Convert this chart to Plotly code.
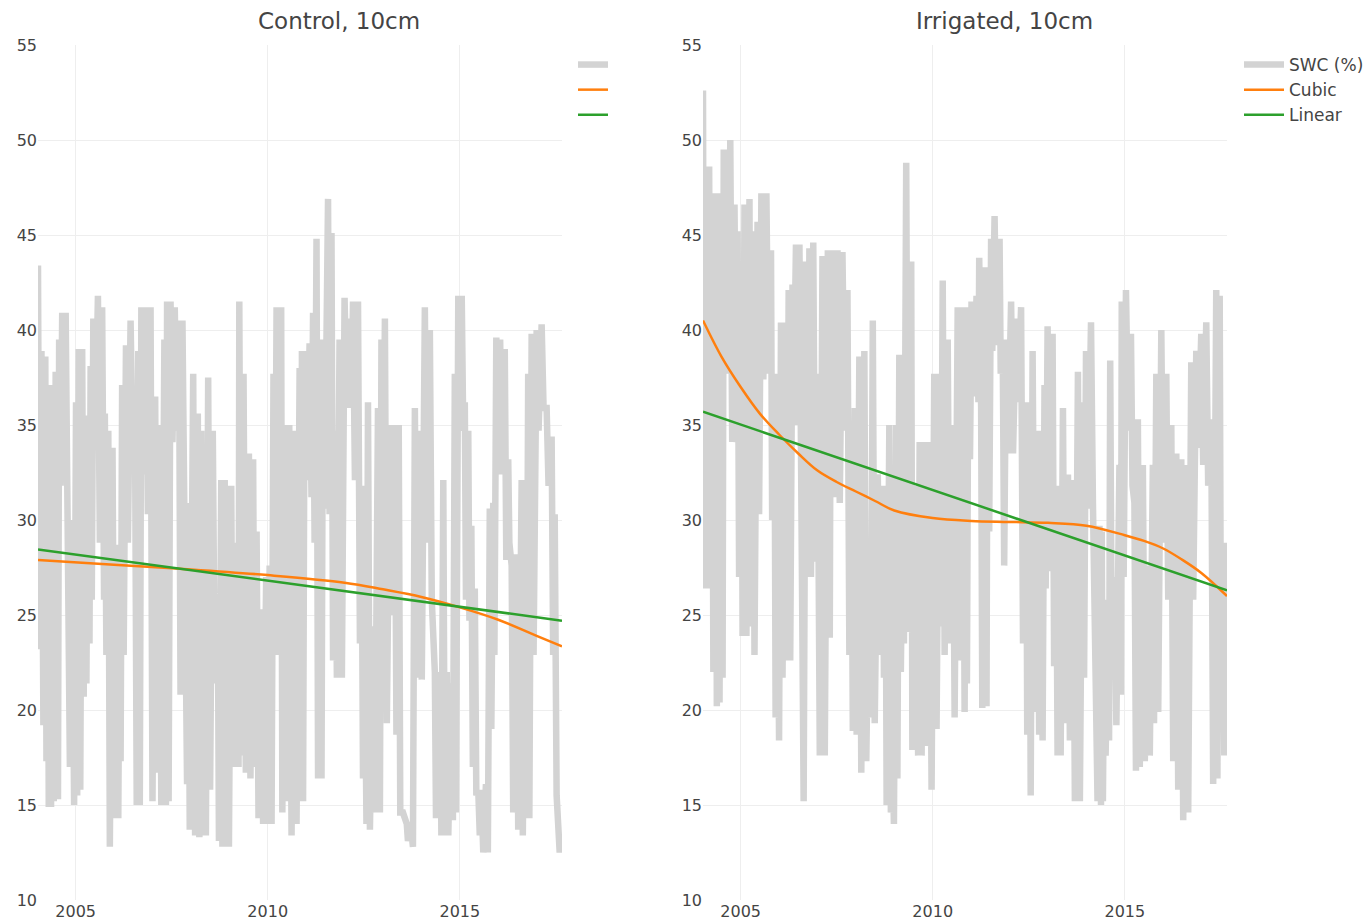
import plotly.graph_objects as go

# ---------------- data (decimal years, soil water content %) ----------------
ctrl_t = [
    2004.02, 2004.06, 2004.11, 2004.16, 2004.21, 2004.24, 2004.27, 2004.30, 2004.33, 2004.36,
    2004.38, 2004.43, 2004.48, 2004.54, 2004.57, 2004.61, 2004.65, 2004.70, 2004.74, 2004.78,
    2004.81, 2004.85, 2004.90, 2004.96, 2005.01, 2005.04, 2005.08, 2005.12, 2005.17, 2005.21,
    2005.24, 2005.28, 2005.32, 2005.36, 2005.39, 2005.42, 2005.46, 2005.51, 2005.58, 2005.63,
    2005.69, 2005.74, 2005.76, 2005.80, 2005.85, 2005.89, 2005.96, 2006.01, 2006.07, 2006.11,
    2006.15, 2006.17, 2006.21, 2006.25, 2006.31, 2006.36, 2006.43, 2006.49, 2006.55, 2006.59,
    2006.63, 2006.67, 2006.71, 2006.76, 2006.83, 2006.88, 2006.95, 2007.00, 2007.07, 2007.12,
    2007.18, 2007.23, 2007.31, 2007.35,
    2007.38, 2007.42, 2007.47, 2007.52, 2007.58, 2007.63, 2007.69, 2007.73, 2007.78, 2007.82,
    2007.86, 2007.90, 2007.93, 2007.97, 2008.06, 2008.11, 2008.18, 2008.22, 2008.27, 2008.31,
    2008.36, 2008.39, 2008.45, 2008.50, 2008.57, 2008.62, 2008.70, 2008.73, 2008.79, 2008.82,
    2008.88, 2008.92, 2008.96, 2008.99, 2009.05, 2009.09, 2009.13, 2009.17, 2009.20, 2009.24,
    2009.26, 2009.31, 2009.37, 2009.43, 2009.51, 2009.55, 2009.62, 2009.66, 2009.71, 2009.76,
    2009.83, 2009.88, 2009.96, 2009.99, 2010.05, 2010.10, 2010.15, 2010.18, 2010.23, 2010.28,
    2010.35, 2010.38, 2010.43, 2010.49, 2010.56, 2010.62, 2010.70, 2010.75, 2010.83, 2010.87,
    2010.89, 2010.92, 2010.96, 2011.01, 2011.09, 2011.14, 2011.18, 2011.22, 2011.27, 2011.31,
    2011.36, 2011.40, 2011.43, 2011.48, 2011.57, 2011.61, 2011.66, 2011.70, 2011.75, 2011.80,
    2011.87, 2011.93, 2012.00, 2012.06, 2012.13, 2012.18, 2012.22, 2012.27, 2012.35, 2012.40,
    2012.44, 2012.48, 2012.53, 2012.57, 2012.61, 2012.66, 2012.74, 2012.79, 2012.87, 2012.92,
    2012.96, 2012.99, 2013.05, 2013.10, 2013.18, 2013.22, 2013.31, 2013.35, 2013.41, 2013.45,
    2013.52, 2013.58, 2013.62, 2013.65, 2013.72, 2013.78, 2013.83, 2013.88, 2013.96, 2014.01,
    2014.09, 2014.14, 2014.22, 2014.27, 2014.35, 2014.38,
    2014.42, 2014.44, 2014.49, 2014.52, 2014.57, 2014.61, 2014.66, 2014.70, 2014.78, 2014.82,
    2014.87, 2014.90, 2014.96, 2015.00, 2015.05, 2015.09, 2015.13, 2015.16, 2015.22, 2015.25,
    2015.30, 2015.34, 2015.39, 2015.43, 2015.48, 2015.52, 2015.56, 2015.61, 2015.68, 2015.73,
    2015.78, 2015.82, 2015.87, 2015.90, 2015.95, 2016.00, 2016.05, 2016.09, 2016.17, 2016.21,
    2016.26, 2016.29, 2016.35, 2016.39, 2016.48, 2016.52, 2016.61, 2016.64, 2016.69, 2016.73,
    2016.78, 2016.81, 2016.87, 2016.92, 2017.00, 2017.05, 2017.13, 2017.18, 2017.26, 2017.31,
    2017.39, 2017.43, 2017.47, 2017.52, 2017.56, 2017.60, 2017.65,
]
ctrl_swc = [
    43.4, 23.2, 38.9, 19.2, 38.6, 17.3, 33.5, 14.9, 33.4, 14.9,
    37.1, 15.2, 37.8, 15.3, 39.5, 31.8, 40.9, 33.0, 40.9, 30.0,
    30.0, 17.0, 30.0, 15.0, 36.2, 15.5, 39.0, 15.8, 39.0, 20.7,
    35.5, 21.4, 35.3, 23.5, 38.1, 25.8, 40.6, 34.1, 41.8, 28.8,
    41.2, 25.8, 35.6, 22.9, 34.7, 12.8, 33.8, 14.3, 28.7, 14.3,
    28.7, 17.3, 37.1, 22.9, 39.2, 28.8, 40.5, 33.0, 33.0, 15.0,
    38.9, 15.0, 41.2, 32.4, 41.2, 30.3, 41.2, 15.2, 36.5, 16.7,
    35.0, 15.0, 39.5, 15.0,
    41.5, 15.2, 41.5, 34.1, 41.2, 34.7, 40.5, 20.8, 40.5, 30.9,
    30.9, 16.1, 30.9, 13.7, 37.7, 13.4, 35.6, 13.3, 34.7, 13.4,
    25.0, 13.4, 37.5, 15.8, 34.7, 21.4, 25.8, 13.1, 32.1, 12.8,
    32.1, 12.8, 22.9, 12.8, 31.8, 17.3, 22.9, 17.0, 28.8, 17.0,
    41.5, 17.6, 37.7, 16.7, 33.5, 16.4, 33.2, 17.0, 29.4, 14.3,
    25.3, 14.0, 27.0, 14.0, 27.6, 14.0, 37.7, 22.9, 41.2, 22.9,
    41.2, 14.6, 35.0, 15.2, 35.0, 13.4, 34.7, 14.0, 38.0, 19.9,
    38.9, 15.2, 38.9, 32.1, 39.3, 31.2, 40.9, 28.8, 44.8, 16.4,
    39.5, 16.4, 35.0, 30.6, 46.9, 30.3, 45.1, 22.6, 34.7, 21.7,
    39.5, 21.7, 41.7, 35.9, 40.6, 35.9, 41.5, 32.1, 41.5, 23.5,
    31.8, 16.4, 22.9, 14.0, 36.2, 13.7, 24.4, 14.6, 35.9, 14.6,
    39.5, 24.7, 40.6, 19.3, 35.0, 25.0, 35.0, 18.7, 35.0, 14.6,
    14.6, 14.0, 14.0, 13.1, 14.0, 12.8, 35.9, 21.7, 34.7, 21.6,
    41.2, 28.8, 40.0, 25.8, 22.0, 14.3,
    22.0, 14.3, 22.0, 13.4, 32.1, 13.4, 22.0, 13.4, 21.4, 14.2,
    37.7, 14.6, 41.8, 34.7, 41.8, 34.7, 36.2, 25.8, 34.7, 24.7,
    29.7, 17.0, 26.4, 15.5, 15.8, 13.4, 15.8, 12.5, 16.1, 12.5,
    30.6, 19.0, 30.9, 22.9, 39.6, 33.2, 39.5, 32.4, 39.0, 27.9,
    33.2, 28.8, 27.6, 14.6, 28.2, 13.7, 32.1, 13.4, 25.8, 14.3,
    37.7, 14.3, 39.8, 22.9, 40.0, 34.7, 40.3, 35.9, 35.9, 31.8,
    34.4, 22.9, 30.3, 15.5, 14.3, 12.5, 13.4,
]

irr_t = [
    2004.02, 2004.05, 2004.10, 2004.13, 2004.18, 2004.21, 2004.25, 2004.29, 2004.35, 2004.38,
    2004.41, 2004.45, 2004.50, 2004.53, 2004.56, 2004.60, 2004.66, 2004.70, 2004.73, 2004.78,
    2004.84, 2004.88, 2004.92, 2004.96, 2005.02, 2005.05, 2005.10, 2005.15, 2005.23, 2005.26,
    2005.32, 2005.36, 2005.44, 2005.48, 2005.54, 2005.59, 2005.67, 2005.72, 2005.79, 2005.82,
    2005.88, 2005.91, 2005.96, 2006.00, 2006.05, 2006.09, 2006.15, 2006.20, 2006.25, 2006.29,
    2006.35, 2006.39, 2006.44, 2006.48, 2006.53, 2006.56, 2006.60, 2006.64, 2006.70, 2006.74,
    2006.79, 2006.83, 2006.89, 2006.94, 2007.00, 2007.06, 2007.13, 2007.19, 2007.27, 2007.32,
    2007.35,
    2007.37, 2007.41, 2007.47, 2007.52, 2007.58, 2007.65, 2007.71, 2007.78, 2007.83, 2007.88,
    2007.92, 2007.97, 2008.02, 2008.09, 2008.14, 2008.22, 2008.27, 2008.35, 2008.39, 2008.44,
    2008.49, 2008.57, 2008.62, 2008.70, 2008.73, 2008.77, 2008.80, 2008.87, 2008.91, 2008.96,
    2008.99, 2009.05, 2009.08, 2009.13, 2009.17, 2009.22, 2009.25, 2009.31, 2009.36, 2009.44,
    2009.47, 2009.52, 2009.56, 2009.58, 2009.62, 2009.66, 2009.71, 2009.78, 2009.84, 2009.91,
    2009.97, 2010.04, 2010.10, 2010.17, 2010.21, 2010.26, 2010.31, 2010.39, 2010.44, 2010.52,
    2010.57, 2010.65, 2010.70, 2010.78, 2010.83, 2010.87,
    2010.89, 2010.93, 2010.97, 2011.01, 2011.08, 2011.14, 2011.19, 2011.21, 2011.26, 2011.29,
    2011.35, 2011.40, 2011.43, 2011.47, 2011.52, 2011.55, 2011.61, 2011.66, 2011.74, 2011.77,
    2011.82, 2011.86, 2011.91, 2011.96, 2012.04, 2012.09, 2012.17, 2012.22, 2012.30, 2012.35,
    2012.43, 2012.46, 2012.52, 2012.55, 2012.60, 2012.66, 2012.73, 2012.77, 2012.82, 2012.86,
    2012.91, 2012.94, 2012.99, 2013.05, 2013.12, 2013.16, 2013.21, 2013.25, 2013.30, 2013.33,
    2013.39, 2013.44, 2013.52, 2013.57, 2013.65, 2013.70, 2013.78, 2013.83, 2013.91, 2013.94,
    2013.99, 2014.04, 2014.12, 2014.17, 2014.25, 2014.29, 2014.34, 2014.38,
    2014.40, 2014.43, 2014.47, 2014.50, 2014.56, 2014.59, 2014.62, 2014.66, 2014.73, 2014.78,
    2014.86, 2014.90, 2014.92, 2014.97, 2015.03, 2015.09, 2015.16, 2015.20, 2015.25, 2015.29,
    2015.34, 2015.39, 2015.47, 2015.52, 2015.60, 2015.65, 2015.73, 2015.76, 2015.82, 2015.87,
    2015.95, 2016.00, 2016.08, 2016.13, 2016.21, 2016.26, 2016.34, 2016.39, 2016.47, 2016.52,
    2016.60, 2016.65, 2016.73, 2016.78, 2016.86, 2016.91, 2016.99, 2017.04, 2017.12, 2017.17,
    2017.25, 2017.30, 2017.38, 2017.41, 2017.47, 2017.50, 2017.55, 2017.59, 2017.63, 2017.66,
]
irr_swc = [
    52.6, 26.4, 48.6, 26.4, 48.6, 32.1, 47.2, 22.0, 47.2, 20.2,
    45.4, 20.4, 47.2, 21.7, 49.5, 37.7, 49.2, 40.6, 50.0, 34.1,
    46.6, 36.5, 45.2, 27.0, 43.6, 23.9, 46.6, 23.9, 46.9, 24.4,
    45.2, 22.9, 45.7, 30.3, 47.2, 37.4, 47.2, 37.7, 44.2, 30.0,
    37.7, 19.6, 30.3, 18.4, 40.4, 21.7, 40.4, 22.6, 42.1, 22.6,
    42.4, 37.7, 44.5, 35.0, 44.5, 35.9, 34.7, 15.2, 43.6, 27.0,
    44.3, 27.0, 44.6, 27.8, 37.7, 17.6, 43.9, 17.6, 44.2, 23.8,
    44.2,
    31.2, 44.2, 31.2, 44.2, 30.9, 44.1, 34.7, 42.1, 22.9, 34.7,
    18.9, 35.9, 18.7, 38.6, 16.7, 38.9, 17.3, 28.8, 19.6, 40.5,
    19.3, 32.4, 22.9, 31.8, 21.7, 31.8, 15.0, 35.0, 14.6, 17.0,
    14.0, 35.0, 16.4, 38.7, 22.0, 31.5, 23.5, 48.8, 24.1, 43.6,
    17.9, 31.8, 17.9, 27.6, 17.6, 34.1, 17.6, 34.1, 18.1, 34.1,
    15.8, 37.7, 19.0, 37.7, 24.4, 42.6, 22.9, 39.5, 23.5, 35.0,
    19.6, 41.2, 22.6, 41.2, 19.9, 41.2,
    21.4, 41.2, 33.2, 41.5, 36.5, 41.8, 36.2, 43.8, 35.9, 20.1,
    43.3, 20.2, 42.4, 29.4, 44.8, 38.9, 46.0, 39.2, 44.8, 37.7,
    39.5, 27.6, 39.5, 33.5, 41.5, 33.5, 40.6, 36.2, 41.2, 23.5,
    36.2, 18.7, 34.1, 15.5, 38.9, 19.9, 34.7, 18.7, 34.7, 18.4,
    37.1, 26.4, 40.2, 27.3, 39.8, 22.3, 31.8, 17.6, 31.8, 17.6,
    35.9, 19.3, 32.4, 18.4, 32.1, 15.2, 37.8, 15.2, 36.2, 21.7,
    38.9, 30.6, 40.4, 30.9, 22.9, 15.2, 29.7, 15.0,
    29.4, 15.2, 25.8, 17.6, 24.4, 18.4, 38.4, 22.3, 27.0, 19.2,
    32.9, 20.8, 41.5, 27.0, 42.1, 34.7, 39.8, 31.8, 30.9, 16.8,
    35.3, 17.0, 32.9, 17.3, 27.6, 17.6, 32.9, 19.3, 37.7, 19.9,
    40.0, 28.8, 37.7, 25.8, 35.0, 17.3, 33.5, 15.8, 33.2, 14.2,
    32.9, 14.6, 38.3, 25.8, 38.9, 33.8, 39.8, 32.9, 40.4, 31.8,
    35.3, 16.1, 42.1, 16.4, 41.8, 23.5, 28.8, 17.6, 28.8, 19.9,
]

# fitted trends
ctrl_fit_t = [2004.02, 2006.0, 2008.0, 2010.0, 2012.0, 2013.0, 2014.0, 2015.0, 2016.0, 2017.0, 2017.66]
ctrl_cubic = [27.9, 27.65, 27.4, 27.1, 26.7, 26.35, 25.95, 25.4, 24.75, 23.9, 23.35]
ctrl_lin_t = [2004.02, 2017.66]
ctrl_linear = [28.45, 24.7]

irr_fit_t = [2004.02, 2004.5, 2005.0, 2005.5, 2006.0, 2006.5, 2007.0, 2007.5, 2008.0, 2008.5,
             2009.0, 2010.0, 2011.0, 2012.0, 2013.0, 2014.0, 2015.0, 2015.5, 2016.0, 2016.5,
             2017.0, 2017.66]
irr_cubic = [40.5, 38.6, 37.0, 35.6, 34.5, 33.5, 32.6, 32.0, 31.5, 31.0,
             30.5, 30.1, 29.95, 29.9, 29.85, 29.7, 29.2, 28.9, 28.5, 27.9,
             27.2, 26.0]
irr_lin_t = [2004.02, 2017.66]
irr_linear = [35.7, 26.3]

panel_titles = ["Control, 10cm", "Irrigated, 10cm"]
series_names = ["SWC (%)", "Cubic", "Linear"]
x_ticks = [2005, 2010, 2015]
y_ticks = [10, 15, 20, 25, 30, 35, 40, 45, 50, 55]

GRAY = "rgb(211,211,211)"
ORANGE = "rgb(255,127,14)"
GREEN = "rgb(44,160,44)"
FONT = "DejaVu Sans"
W, H = 1370, 924

fig = go.Figure()

# left panel (legend without labels)
fig.add_trace(go.Scatter(x=ctrl_t, y=ctrl_swc, mode="lines", name="",
                         line=dict(color=GRAY, width=6.5), xaxis="x", yaxis="y", legend="legend2"))
fig.add_trace(go.Scatter(x=ctrl_fit_t, y=ctrl_cubic, mode="lines", name="", line_shape="spline",
                         line=dict(color=ORANGE, width=2.5), xaxis="x", yaxis="y", legend="legend2"))
fig.add_trace(go.Scatter(x=ctrl_lin_t, y=ctrl_linear, mode="lines", name="",
                         line=dict(color=GREEN, width=2.5), xaxis="x", yaxis="y", legend="legend2"))
# right panel
fig.add_trace(go.Scatter(x=irr_t, y=irr_swc, mode="lines", name=series_names[0],
                         line=dict(color=GRAY, width=6.5), xaxis="x2", yaxis="y2", legend="legend"))
fig.add_trace(go.Scatter(x=irr_fit_t, y=irr_cubic, mode="lines", name=series_names[1], line_shape="spline",
                         line=dict(color=ORANGE, width=2.5), xaxis="x2", yaxis="y2", legend="legend"))
fig.add_trace(go.Scatter(x=irr_lin_t, y=irr_linear, mode="lines", name=series_names[2],
                         line=dict(color=GREEN, width=2.5), xaxis="x2", yaxis="y2", legend="legend"))

xd1 = [38 / W, 562 / W]
xd2 = [703 / W, 1227 / W]
yd = [1 - 900 / H, 1 - 45 / H]

xaxis_common = dict(range=[2004.02, 2017.66], tickvals=x_ticks, ticktext=[str(v) for v in x_ticks],
                    showgrid=True, gridcolor="#eeeeee", zeroline=False, showline=False, automargin=False,
                    ticks="", tickfont=dict(size=16, color="#444"))
yaxis_common = dict(range=[10, 55], tickvals=y_ticks, showgrid=True, gridcolor="#eeeeee", automargin=False,
                    zeroline=False, showline=False, ticks="", tickfont=dict(size=16, color="#444"))

fig.update_layout(
    width=W, height=H,
    margin=dict(l=0, r=0, t=0, b=0, autoexpand=False),
    paper_bgcolor="white", plot_bgcolor="white",
    font=dict(family=FONT, size=16, color="#444"),
    xaxis=dict(domain=xd1, anchor="y", **xaxis_common),
    yaxis=dict(domain=yd, anchor="x", **yaxis_common),
    xaxis2=dict(domain=xd2, anchor="y2", **xaxis_common),
    yaxis2=dict(domain=yd, anchor="x2", **yaxis_common),
    legend=dict(x=1239 / W, y=1 - 47 / H, xanchor="left", yanchor="top",
                font=dict(size=17, color="#444"), bgcolor="rgba(0,0,0,0)", itemwidth=40),
    legend2=dict(x=573 / W, y=1 - 47 / H, xanchor="left", yanchor="top",
                 font=dict(size=17, color="#444"), bgcolor="rgba(0,0,0,0)", itemwidth=30),
    showlegend=True,
    annotations=[
        dict(text=panel_titles[0], x=339 / W, y=1 - 21 / H, xref="paper", yref="paper",
             showarrow=False, font=dict(size=23, color="#444"), xanchor="center", yanchor="middle"),
        dict(text=panel_titles[1], x=1004 / W, y=1 - 21 / H, xref="paper", yref="paper",
             showarrow=False, font=dict(size=23, color="#444"), xanchor="center", yanchor="middle"),
    ],
)

fig.write_html("out.html")
